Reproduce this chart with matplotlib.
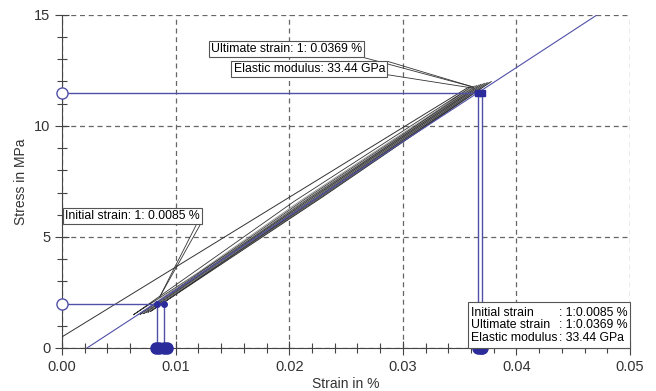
import matplotlib
matplotlib.use("Agg")
import matplotlib.pyplot as plt
from matplotlib.patches import Rectangle
from matplotlib.ticker import MultipleLocator

plt.rcParams['font.family'] = ['Liberation Sans', 'DejaVu Sans']

# hysteresis cycles: lower and upper turning points, loop opening (strain)
cyc_e_lo = [0.0063, 0.0067, 0.0069, 0.0071, 0.0072, 0.0073, 0.0074, 0.0075, 0.0076, 0.0077, 0.0078]
cyc_s_lo = [1.50, 1.50, 1.52, 1.55, 1.55, 1.58, 1.60, 1.60, 1.62, 1.65, 1.65]
cyc_e_hi = [0.0360, 0.0363, 0.0365, 0.0367, 0.0369, 0.0371, 0.0372, 0.0374, 0.0375, 0.0377, 0.0378]
cyc_s_hi = [11.75, 11.80, 11.82, 11.85, 11.88, 11.90, 11.92, 11.95, 11.95, 11.98, 12.00]
cyc_open = [0.0013, 0.0009, 0.0008, 0.0007, 0.0007, 0.0006, 0.0006, 0.0005, 0.0005, 0.0005, 0.0004]

# modulus fit line and first secant
fit_strain = [0.0022, 0.0471]
fit_stress = [0.0, 15.0]
sec_strain = [0.0, 0.0358]
sec_stress = [0.5, 11.75]

# evaluation points
init_stress = 2.0
ult_stress = 11.5
init_strains = [0.0084, 0.0090]
ult_strains = [0.0366, 0.0370]
bottom_dots = [0.0083, 0.0085, 0.0090, 0.0092, 0.0366, 0.0369, 0.0370]

blue = '#5050a8'
dblue = '#2b2b9c'
fs = 8.8

fig = plt.figure(figsize=(6.56, 3.91), dpi=100)
ax = fig.add_axes([0.0945, 0.110, 0.866, 0.852])
ax.set_xlim(0, 0.05)
ax.set_ylim(0, 15)

# loops
for i in range(len(cyc_e_lo)):
    e0, s0, e1, s1, w = cyc_e_lo[i], cyc_s_lo[i], cyc_e_hi[i], cyc_s_hi[i], cyc_open[i]
    em, sm = (e0 + e1) / 2, (s0 + s1) / 2
    col = '#333333' if i % 2 == 0 else '#8a8a8a'
    ax.plot([e0, em + w / 2, e1, em - w / 2, e0], [s0, sm, s1, sm, s0],
            color=col, lw=0.6, zorder=3)

ax.plot(sec_strain, sec_stress, color='#333333', lw=0.7, zorder=3)
ax.plot(fit_strain, fit_stress, color=blue, lw=0.8, zorder=4)

# evaluation guide lines
ax.plot([0, init_strains[1]], [init_stress, init_stress], color=blue, lw=1.0, zorder=4)
ax.plot([0, ult_strains[1]], [ult_stress, ult_stress], color=blue, lw=1.0, zorder=4)
for e in init_strains:
    ax.plot([e, e], [0, init_stress], color=blue, lw=1.0, zorder=4)
for e in ult_strains:
    ax.plot([e, e], [0, ult_stress], color=blue, lw=1.0, zorder=4)
ax.plot(init_strains, [init_stress] * 2, 'o', color=dblue, ms=4, zorder=5)
ax.plot(ult_strains, [ult_stress] * 2, 's', color=dblue, ms=4, zorder=5)
ax.plot([0, 0], [init_stress, ult_stress], 'o', mfc='white', mec=blue, ms=8,
        mew=1.0, clip_on=False, zorder=6)
ax.plot(bottom_dots, [0] * len(bottom_dots), 'o', color=dblue, ms=8,
        clip_on=False, zorder=6)

# callouts
bbox = dict(boxstyle='square,pad=0.18', fc='white', ec='#555555', lw=0.8)
ax.text(0.0003, 5.93, 'Initial strain: 1: 0.0085 %', fontsize=fs, va='center',
        ha='left', bbox=bbox, zorder=7)
ax.plot([0.0119, 0.0086], [5.63, 2.3], color='#333333', lw=0.6, zorder=3)
ax.plot([0.01225, 0.0086], [5.63, 2.3], color='#333333', lw=0.6, zorder=3)

ax.text(0.0131, 13.47, 'Ultimate strain: 1: 0.0369 %', fontsize=fs, va='center',
        ha='left', bbox=bbox, zorder=7)
ax.text(0.0151, 12.57, 'Elastic modulus: 33.44 GPa', fontsize=fs, va='center',
        ha='left', bbox=bbox, zorder=7)
ax.plot([0.0264, 0.0362], [13.1, 11.75], color='#333333', lw=0.6, zorder=3)
ax.plot([0.0287, 0.0362], [12.9, 11.75], color='#333333', lw=0.6, zorder=3)
ax.plot([0.0287, 0.0362], [12.3, 11.7], color='#333333', lw=0.6, zorder=3)

# results table
ax.add_patch(Rectangle((0.0357, 0.0), 0.0143, 2.07, fc='white', ec='#555555',
                       lw=0.8, zorder=7, clip_on=False))
ax.text(0.0360, 1.02, 'Initial strain\nUltimate strain\nElastic modulus',
        fontsize=fs, va='center', ha='left', linespacing=1.05, zorder=8)
ax.text(0.0437, 1.02, ': 1:0.0085 %\n: 1:0.0369 %\n: 33.44 GPa',
        fontsize=fs, va='center', ha='left', linespacing=1.05, zorder=8)

# axes styling
ax.xaxis.set_major_locator(MultipleLocator(0.01))
ax.xaxis.set_minor_locator(MultipleLocator(0.002))
ax.yaxis.set_major_locator(MultipleLocator(5))
ax.yaxis.set_minor_locator(MultipleLocator(1))
ax.xaxis.set_major_formatter(matplotlib.ticker.FormatStrFormatter('%.2f'))
ax.tick_params(which='major', direction='inout', length=10, width=0.8,
               color='#444444', labelsize=10.5, labelcolor='#333333')
ax.tick_params(which='minor', direction='inout', length=7, width=0.8, color='#444444')
ax.grid(True, which='major', ls=(0, (4, 3)), color='#666666', lw=0.9)
for s in ['top', 'right']:
    ax.spines[s].set_visible(False)
for s in ['left', 'bottom']:
    ax.spines[s].set_color('#444444')
    ax.spines[s].set_linewidth(0.8)
ax.set_xlabel('Strain in %', fontsize=10, color='#333333', labelpad=2)
ax.set_ylabel('Stress in MPa', fontsize=10, color='#333333', labelpad=4)

fig.savefig('out.png', dpi=100)
